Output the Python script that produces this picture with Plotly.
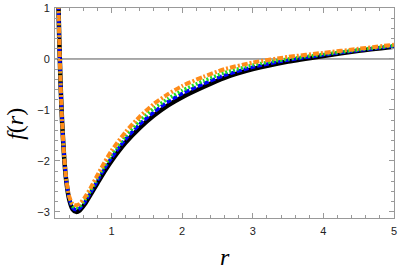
import plotly.graph_objects as go

# r grid (read positions) and f(r) values
r_vals = [0.245, 0.25, 0.26, 0.28, 0.30, 0.33, 0.36, 0.40, 0.45, 0.50, 0.55, 0.62, 0.70,
          0.80, 0.90, 1.0, 1.2, 1.4, 1.6, 1.8, 2.0, 2.3, 2.6, 3.0, 3.5, 4.0, 4.5, 5.0]

f_black = [1.33, 1.0, 0.41, -0.53, -1.22, -1.94, -2.40, -2.75, -2.95, -3.00, -2.97, -2.85, -2.67,
           -2.44, -2.21, -2.00, -1.64, -1.35, -1.11, -0.91, -0.75, -0.55, -0.37, -0.20, -0.05, 0.06, 0.16, 0.24]
f_blue = [1.33, 1.0, 0.41, -0.53, -1.22, -1.93, -2.39, -2.73, -2.92, -2.96, -2.93, -2.81, -2.63,
          -2.39, -2.15, -1.94, -1.57, -1.28, -1.04, -0.84, -0.68, -0.49, -0.32, -0.16, -0.02, 0.08, 0.17, 0.25]
f_green = [1.33, 1.0, 0.41, -0.53, -1.22, -1.92, -2.38, -2.71, -2.89, -2.92, -2.89, -2.77, -2.59,
           -2.34, -2.10, -1.88, -1.51, -1.21, -0.97, -0.78, -0.62, -0.43, -0.27, -0.12, 0.00, 0.09, 0.18, 0.26]
f_orange = [1.33, 1.0, 0.41, -0.53, -1.22, -1.91, -2.37, -2.69, -2.85, -2.87, -2.84, -2.72, -2.54,
            -2.28, -2.03, -1.80, -1.43, -1.13, -0.88, -0.69, -0.53, -0.35, -0.20, -0.07, 0.04, 0.12, 0.20, 0.28]

x_ticks = [1, 2, 3, 4, 5]
y_ticks = [-3, -2, -1, 0, 1]
y_ticklabels = ["\u22123", "\u22122", "\u22121", "0", "1"]

fig = go.Figure()
fig.add_trace(go.Scatter(x=r_vals, y=f_black, mode="lines",
                         line=dict(color="black", width=4.5, shape="spline", smoothing=0.6)))
fig.add_trace(go.Scatter(x=r_vals, y=f_blue, mode="lines",
                         line=dict(color="#0000ff", width=3.5, dash="5px,2px", shape="spline", smoothing=0.6)))
fig.add_trace(go.Scatter(x=r_vals, y=f_green, mode="lines",
                         line=dict(color="#22dd22", width=3.5, dash="2px,2px", shape="spline", smoothing=0.6)))
fig.add_trace(go.Scatter(x=r_vals, y=f_orange, mode="lines",
                         line=dict(color="#ff8c1a", width=4, dash="6px,2px,2px,2px", shape="spline", smoothing=0.6)))

axis_common = dict(showline=True, linecolor="#999999", linewidth=1, mirror="allticks",
                   ticks="inside", ticklen=5, tickcolor="#999999", tickwidth=1,
                   showgrid=False, zeroline=False, automargin=False,
                   tickfont=dict(family="Liberation Sans", size=11, color="#222222"))

fig.update_xaxes(range=[0.2, 5.0], tickvals=x_ticks, ticktext=[str(v) for v in x_ticks],
                 minor=dict(dtick=0.2, tick0=0, ticks="inside", ticklen=3, tickcolor="#999999"),
                 ticklabelstandoff=3, **axis_common)
fig.update_yaxes(range=[-3.12, 1.0], tickvals=y_ticks, ticktext=y_ticklabels,
                 minor=dict(dtick=0.2, tick0=0, ticks="inside", ticklen=3, tickcolor="#999999"),
                 ticklabelstandoff=2, **axis_common)

# horizontal axis line at f = 0
fig.add_shape(type="line", xref="paper", yref="y", x0=0, x1=1, y0=0, y1=0,
              line=dict(color="#555555", width=1), layer="below")

fig.add_annotation(text="<i>r</i>", xref="paper", yref="paper", x=0.5, y=-0.185, showarrow=False,
                   font=dict(family="Liberation Serif", size=24, color="black"),
                   xanchor="center", yanchor="middle")
fig.add_annotation(text="<i>f</i>(<i>r</i>)", xref="paper", yref="paper", x=-0.12, y=0.45,
                   showarrow=False, textangle=-90,
                   font=dict(family="Liberation Serif", size=24, color="black"),
                   xanchor="center", yanchor="middle")

fig.update_layout(width=399, height=273, margin=dict(l=55, r=4.5, t=8, b=55),
                  paper_bgcolor="white", plot_bgcolor="white", showlegend=False)

fig.write_html("out.html", config={"displayModeBar": False},
               post_script="document.body.style.margin='0';document.body.style.overflow='hidden';")
